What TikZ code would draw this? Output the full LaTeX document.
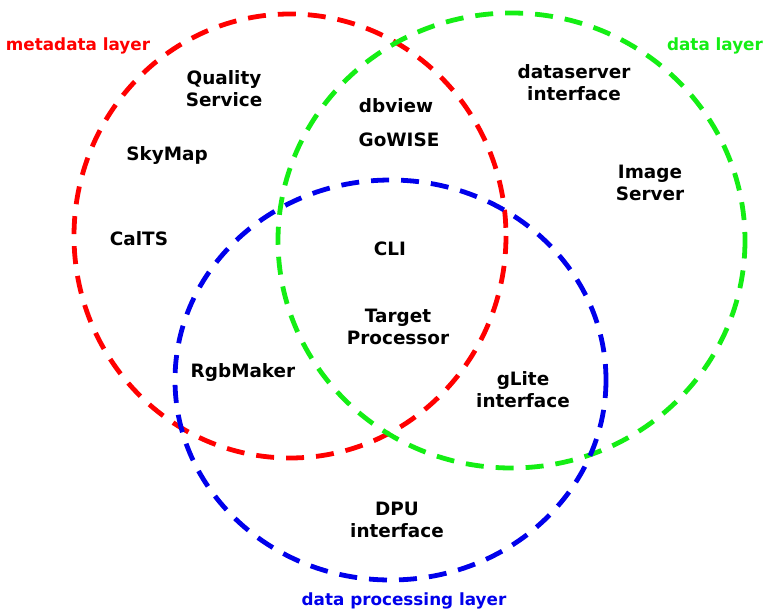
\documentclass[tikz,border=0pt]{standalone}
\usepackage{fontspec}
\setmainfont{DejaVu Sans}
\definecolor{lred}{RGB}{255,0,0}
\definecolor{lgreen}{RGB}{20,238,20}
\definecolor{lblue}{RGB}{0,0,235}
\begin{document}
\begin{tikzpicture}[x=1pt,y=-1pt,
  ring/.style={line width=4.8pt, dash pattern=on 18pt off 12pt},
  item/.style={font=\fontsize{18.4}{22}\selectfont\bfseries, align=center, inner sep=0pt, text=black},
  layer/.style={font=\fontsize{16.8}{18}\selectfont\bfseries, inner sep=0pt}]
\useasboundingbox (0,0) rectangle (764,610);
\fill[white] (0,0) rectangle (764,610);
% circles
\draw[ring, lred] (290,236) ellipse [x radius=216, y radius=222];
\draw[ring, lgreen] (511.5,240.5) ellipse [x radius=233.5, y radius=227.5];
\draw[ring, lblue] (390.5,380) ellipse [x radius=215.5, y radius=200];
% layer labels
\node[layer, text=lred] (meta) at (78,46) {metadata layer};
\node[layer, text=lgreen] (data) at (715,46) {data layer};
\node[layer, text=lblue] (proc) at (404,601) {data processing layer};
% items
\node[item] (qs) at (224,89) {Quality\\Service};
\node[item] (sky) at (167,155) {SkyMap};
\node[item] (calts) at (139,239) {CalTS};
\node[item] (dbv) at (396,106) {dbview};
\node[item] (gow) at (399,140) {GoWISE};
\node[item] (cli) at (390,249) {CLI};
\node[item] (tp) at (398,327) {Target\\Processor};
\node[item] (rgb) at (243,372) {RgbMaker};
\node[item] (glite) at (523,390) {gLite\\interface};
\node[item] (dpu) at (397,520) {DPU\\interface};
\node[item] (dsi) at (574,83) {dataserver\\interface};
\node[item] (imgs) at (650,183) {Image\\Server};
\end{tikzpicture}
\end{document}
